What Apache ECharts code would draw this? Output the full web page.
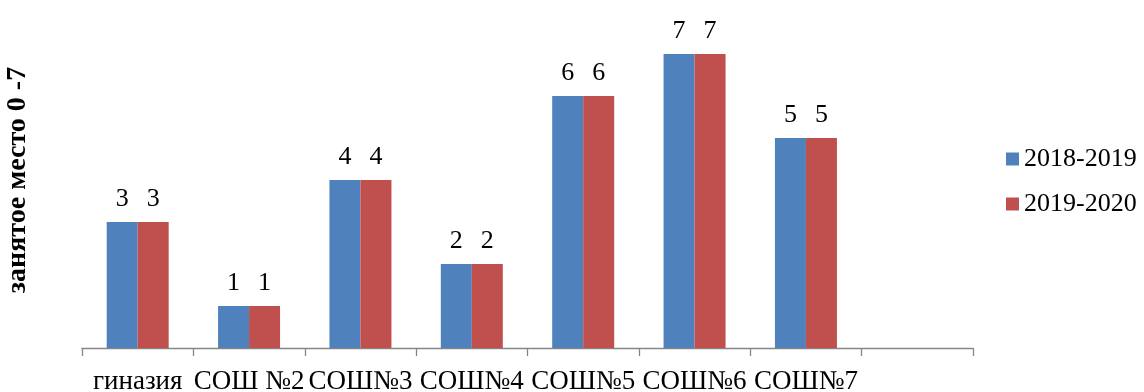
<!DOCTYPE html>
<html>
<head>
<meta charset="utf-8">
<script src="https://cdn.jsdelivr.net/npm/echarts@6/dist/echarts.min.js"></script>
<style>
html,body{margin:0;padding:0;background:#fff;}
#chart{width:1144px;height:392px;}
</style>
</head>
<body>
<div id="chart"></div>
<script>
const categories = ['гиназия', 'СОШ №2', 'СОШ№3', 'СОШ№4', 'СОШ№5', 'СОШ№6', 'СОШ№7', ''];
const series2018 = [3, 1, 4, 2, 6, 7, 5, null];
const series2019 = [3, 1, 4, 2, 6, 7, 5, null];
const seriesNames = ['2018-2019', '2019-2020'];
const yTitle = 'занятое место 0 -7';

const font = '"Liberation Serif", "Times New Roman", serif';
const chart = echarts.init(document.getElementById('chart'), null, {renderer: 'canvas'});
const labelOpt = {show: true, position: 'top', distance: 10, color: '#000', fontFamily: font, fontSize: 26};
chart.setOption({
  animation: false,
  textStyle: {fontFamily: font},
  grid: {left: 82, right: 171, top: 12, bottom: 44, containLabel: false, outerBoundsMode: 'none'},
  legend: {
    orient: 'vertical', left: 1001, top: 141, itemWidth: 13, itemHeight: 13, itemGap: 19,
    icon: 'rect',
    textStyle: {fontFamily: font, fontSize: 26, color: '#000'},
    data: seriesNames
  },
  xAxis: {
    type: 'category', data: categories,
    axisLine: {lineStyle: {color: '#868686', width: 1.3}},
    axisTick: {show: true, length: 8, lineStyle: {color: '#868686', width: 1.3}},
    axisLabel: {color: '#000', fontFamily: font, fontSize: 27, margin: 20, interval: 0}
  },
  yAxis: {
    type: 'value', min: 0, max: 8, interval: 1,
    axisLine: {show: false}, axisTick: {show: false}, axisLabel: {show: false}, splitLine: {show: false},
    name: yTitle, nameLocation: 'middle', nameGap: 50, nameRotate: 90,
    nameTextStyle: {fontFamily: font, fontSize: 28, fontWeight: 'bold', color: '#000'}
  },
  series: [
    {name: seriesNames[0], type: 'bar', data: series2018, barWidth: 31, barGap: '0%',
     itemStyle: {color: '#4F81BD'}, label: labelOpt},
    {name: seriesNames[1], type: 'bar', data: series2019, barWidth: 31,
     itemStyle: {color: '#C0504D'}, label: labelOpt}
  ]
});
</script>
</body>
</html>
